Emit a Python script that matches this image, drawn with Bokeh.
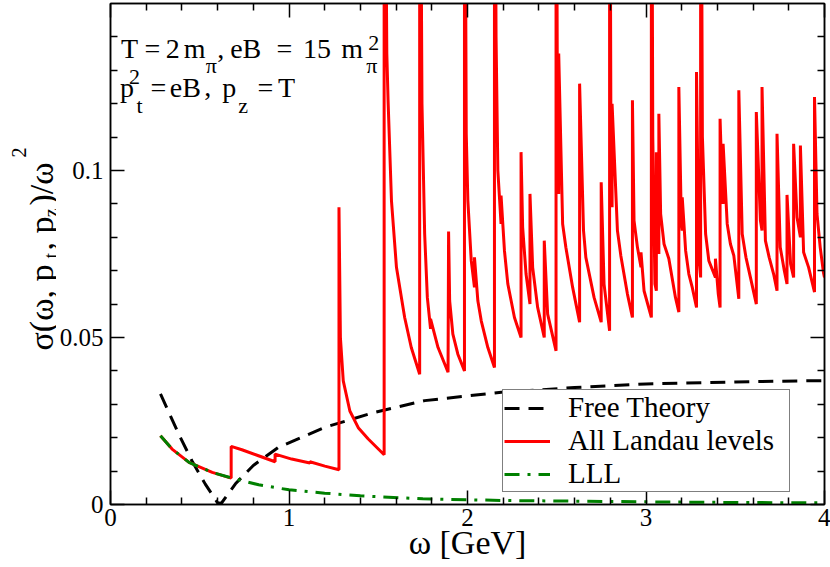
import numpy as np
from bokeh.plotting import figure
from bokeh.layouts import row
from bokeh.models import Range1d, LinearAxis, FixedTicker, Legend, LegendItem, Label
from bokeh.embed import file_html
from bokeh.resources import INLINE

# ---------------- data ----------------
free_x = [0.28, 0.382, 0.456, 0.531, 0.600, 0.62, 0.70, 0.80, 0.94, 1.20, 1.48,
          1.76, 2.19, 2.60, 3.00, 3.50, 4.00]
free_y = [0.0331, 0.0211, 0.0131, 0.0061, 0.0005, 0.0003, 0.0062, 0.0117, 0.0171,
          0.0231, 0.0276, 0.0311, 0.0336, 0.0350, 0.0361, 0.0367, 0.0371]

lll_x = [0.28, 0.345, 0.44, 0.57, 0.68, 0.83, 1.0, 1.2, 1.4, 1.75, 2.2, 2.6, 3.0, 3.5, 4.0]
lll_y = [0.0206, 0.0166, 0.0126, 0.0096, 0.0079, 0.0059, 0.0044, 0.0034, 0.0026,
         0.0017, 0.0012, 0.0010, 0.0008, 0.0006, 0.0005]

all_x = [0.28, 0.345, 0.44, 0.57, 0.676,
         0.676, 0.736, 0.829, 0.922,
         0.922, 1.015, 1.117,
         1.117, 1.201, 1.28,
         1.28, 1.288, 1.304, 1.341, 1.388, 1.444, 1.533,
         1.533, 1.548, 1.555, 1.574, 1.602, 1.648, 1.685, 1.732,
         1.732, 1.745, 1.760, 1.775, 1.793, 1.793, 1.835, 1.891,
         1.894, 1.900, 1.918, 1.946, 1.983,
         1.983, 1.993, 2.002, 2.021, 2.039, 2.039, 2.058, 2.077, 2.114, 2.151,
         2.151, 2.160, 2.170, 2.188, 2.188, 2.207, 2.226, 2.263, 2.300,
         2.300, 2.309, 2.328, 2.350, 2.350, 2.365, 2.393, 2.430,
         2.430, 2.449, 2.496,
         2.496, 2.503, 2.511, 2.511, 2.533, 2.551, 2.589, 2.628,
         2.628, 2.650, 2.663, 2.709, 2.749,
         2.749, 2.765, 2.796,
         2.796, 2.803, 2.810, 2.810, 2.840, 2.859, 2.896, 2.924,
         2.924, 2.933, 2.952, 2.972, 2.972, 2.989, 3.030,
         3.030, 3.038, 3.050, 3.058, 3.058, 3.066, 3.072, 3.072, 3.082, 3.101, 3.128, 3.165, 3.184,
         3.184, 3.198, 3.203, 3.203, 3.222, 3.240, 3.259, 3.283,
         3.283, 3.296, 3.306, 3.306, 3.316, 3.334, 3.352, 3.389, 3.389, 3.405, 3.415,
         3.415, 3.428, 3.432, 3.432, 3.455, 3.473, 3.492, 3.520,
         3.520, 3.539, 3.560, 3.585, 3.618,
         3.618, 3.641, 3.650, 3.650, 3.669, 3.690, 3.715, 3.734,
         3.734, 3.752, 3.775, 3.790,
         3.790, 3.810, 3.827, 3.827, 3.846, 3.865, 3.865, 3.883, 3.911, 3.944,
         3.944, 3.958, 3.976, 3.994, 4.000]
all_y = [0.0206, 0.0166, 0.0126, 0.0096, 0.0079,
         0.0174, 0.0164, 0.0146, 0.0128,
         0.0151, 0.0136, 0.0124,
         0.0128, 0.0115, 0.0104,
         0.0890, 0.0500, 0.0370, 0.0280, 0.0230, 0.0196, 0.0149,
         0.2500, 0.1350, 0.1210, 0.0910, 0.0710, 0.0560, 0.0470, 0.0390,
         0.2500, 0.1200, 0.0810, 0.0620, 0.0526, 0.0556, 0.0470, 0.0396,
         0.0817, 0.0610, 0.0510, 0.0450, 0.0400,
         0.2500, 0.1110, 0.0910, 0.0730, 0.0650, 0.0740, 0.0610, 0.0550, 0.0470, 0.0410,
         0.2500, 0.1400, 0.1000, 0.0840, 0.0925, 0.0760, 0.0660, 0.0560, 0.0500,
         0.1055, 0.0830, 0.0690, 0.0600, 0.0930, 0.0710, 0.0590, 0.0500,
         0.0790, 0.0570, 0.0460,
         0.2500, 0.1300, 0.0930, 0.1350, 0.0840, 0.0770, 0.0650, 0.0546,
         0.1260, 0.0820, 0.0740, 0.0620, 0.0546,
         0.0965, 0.0660, 0.0520,
         0.2500, 0.1200, 0.0890, 0.1200, 0.0820, 0.0745, 0.0630, 0.0560,
         0.1210, 0.0850, 0.0770, 0.0710, 0.0755, 0.0640, 0.0560,
         0.2500, 0.1100, 0.0660, 0.0640, 0.1055, 0.0800, 0.0750, 0.1170, 0.0870, 0.0780, 0.0736, 0.0620, 0.0576,
         0.1250, 0.0845, 0.0820, 0.0920, 0.0760, 0.0690, 0.0650, 0.0590,
         0.1295, 0.0740, 0.0680, 0.2500, 0.1100, 0.0810, 0.0730, 0.0680, 0.0736, 0.0630, 0.0590,
         0.1155, 0.0930, 0.0900, 0.1080, 0.0840, 0.0780, 0.0745, 0.0616,
         0.1240, 0.0810, 0.0740, 0.0680, 0.0600,
         0.1175, 0.0850, 0.0820, 0.1250, 0.0790, 0.0740, 0.0690, 0.0640,
         0.1110, 0.0770, 0.0700, 0.0660,
         0.0927, 0.0720, 0.0680, 0.1080, 0.0860, 0.0800, 0.1075, 0.0755, 0.0710, 0.0636,
         0.1220, 0.0870, 0.0770, 0.0695, 0.0680]

series_names = ["Free Theory", "All Landau levels", "LLL"]

x_ticks = [0, 1, 2, 3, 4]
x_tick_labels = ["0", "1", "2", "3", "4"]
y_ticks = [0, 0.05, 0.1]
y_tick_labels = ["0", "0.05", "0.1"]

# ---------------- layout ----------------
TOTAL_W, H = 830, 567
LEFT_W = 56                          # narrow panel holding the y-axis title
FL, FR, FT, FB = 108, 824, 3, 504    # frame edges in page pixels
XMAX, YMAX = 4.0, 0.15
SERIF = "Liberation Serif"


def dx(px):
    return (px - FL) / (FR - FL) * XMAX


def dy(py):
    return (FB - py) / (FB - FT) * YMAX


p = figure(width=TOTAL_W - LEFT_W, height=H, x_range=Range1d(0, XMAX), y_range=Range1d(0, YMAX),
           output_backend="svg", toolbar_location=None,
           min_border_left=FL - LEFT_W, min_border_right=TOTAL_W - FR, min_border_top=FT,
           min_border_bottom=H - FB)
p.grid.visible = False
p.background_fill_color = "white"
p.border_fill_color = "white"
p.outline_line_color = "black"
p.outline_line_width = 1.5

x_minor = [round(v, 2) for v in np.arange(0.2, 4.0, 0.2) if abs(v - round(v)) > 1e-6]
y_minor = [round(v, 3) for v in np.arange(0.01, 0.15, 0.01) if abs(v * 20 - round(v * 20)) > 1e-6]


def style_axis(ax, labels=True):
    ax.axis_line_color = "black"
    ax.axis_line_width = 1.5
    ax.major_tick_line_color = "black"
    ax.major_tick_line_width = 1.5
    ax.minor_tick_line_color = "black"
    ax.minor_tick_line_width = 1.5
    ax.major_tick_in = 14
    ax.major_tick_out = 0
    ax.minor_tick_in = 7
    ax.minor_tick_out = 0
    if labels:
        ax.major_label_text_font = SERIF
        ax.major_label_text_font_size = "25px"
        ax.major_label_text_color = "black"
    else:
        ax.major_label_text_color = None
        ax.major_label_text_font_size = "0px"
        ax.major_label_standoff = 0
        ax.axis_label = None


xa = p.xaxis[0]
ya = p.yaxis[0]
xa.ticker = FixedTicker(ticks=x_ticks, minor_ticks=x_minor)
ya.ticker = FixedTicker(ticks=y_ticks, minor_ticks=y_minor)
xa.major_label_overrides = {t: s for t, s in zip(x_ticks, x_tick_labels)}
ya.major_label_overrides = {t: s for t, s in zip(y_ticks, y_tick_labels)}
style_axis(xa)
style_axis(ya)
xa.major_label_standoff = 4
ya.major_label_standoff = 7
ya.axis_label = None
xa.axis_label = "\u03c9 [GeV]"
xa.axis_label_text_font = SERIF
xa.axis_label_text_font_size = "34px"
xa.axis_label_text_font_style = "normal"
xa.axis_label_text_color = "black"
xa.axis_label_standoff = -5

top = LinearAxis(ticker=FixedTicker(ticks=x_ticks, minor_ticks=x_minor))
right = LinearAxis(ticker=FixedTicker(ticks=y_ticks, minor_ticks=y_minor))
style_axis(top, labels=False)
style_axis(right, labels=False)
p.add_layout(top, "above")
p.add_layout(right, "right")

# ---------------- lines ----------------
r_free = p.line(free_x, free_y, line_color="black", line_width=3, line_dash="15 9")
r_all = p.line(all_x, all_y, line_color="#ff0000", line_width=3)
r_lll = p.line(lll_x, lll_y, line_color="#008000", line_width=3, line_dash="15 8 3 8")

legend = Legend(items=[LegendItem(label=series_names[0], renderers=[r_free]),
                       LegendItem(label=series_names[1], renderers=[r_all]),
                       LegendItem(label=series_names[2], renderers=[r_lll])],
                location=(392, 12))
legend.label_text_font = SERIF
legend.label_text_font_size = "29px"
legend.label_text_color = "black"
legend.glyph_width = 46
legend.glyph_height = 26
legend.label_height = 26
legend.label_width = 220
legend.label_standoff = 18
legend.padding = 1
legend.spacing = 0
legend.margin = 0
legend.border_line_color = "black"
legend.border_line_width = 1.5
legend.background_fill_alpha = 1.0
p.add_layout(legend)


def add_text(text, px, py, size):
    p.add_layout(Label(x=dx(px), y=dy(py), text=text, text_font=SERIF,
                       text_font_size=f"{size}px", text_color="black",
                       text_align="left", text_baseline="alphabetic"))


BIG, SMALL = 28, 22
# annotation, line 1:  T = 2 m_pi, eB = 15 m_pi^2
L1, L1SUB, L1SUP = 48.3, 64.5, 42.5
for tok, xpos in [("T", 118.5), ("=", 142), ("2", 163.5), ("m", 181.5), (",", 215),
                  ("eB", 228), ("=", 274.5), ("15", 301), ("m", 339.5)]:
    add_text(tok, xpos, L1, BIG)
add_text("\u03c0", 203.5, L1SUB, SMALL)
add_text("\u03c0", 364.5, L1SUB, SMALL)
add_text("2", 366.5, L1SUP, SMALL)
# annotation, line 2:  p_t^2 = eB, p_z = T
L2, L2SUB, L2SUP = 86.7, 104.5, 76.0
for tok, xpos in [("p", 117.5), ("=", 148), ("eB", 167.5), (",", 202), ("p", 220),
                  ("=", 255.5), ("T", 276)]:
    add_text(tok, xpos, L2, BIG)
add_text("2", 126.5, L2SUP, SMALL)
add_text("t", 134, L2SUB, SMALL)
add_text("z", 236, L2SUB, SMALL)

# ---------------- left panel: y-axis title with sub/superscripts ----------------
q = figure(width=LEFT_W, height=H, x_range=Range1d(0, LEFT_W), y_range=Range1d(FB, FT),
           x_axis_type=None, y_axis_type=None, output_backend="svg", toolbar_location=None,
           min_border_left=0, min_border_right=0, min_border_top=FT, min_border_bottom=H - FB)
q.outline_line_color = None
q.background_fill_color = "white"
q.border_fill_color = "white"
q.grid.visible = False

A = np.pi / 2


def add_ytext(text, px, py, size):
    q.add_layout(Label(x=px, y=py, text=text, text_font=SERIF, text_font_size=f"{size}px",
                       text_color="black", text_align="left", text_baseline="alphabetic",
                       angle=A))


add_ytext("\u03c3(\u03c9, p", 41, 350, 34)
add_ytext("t", 50, 258, 20)
add_ytext(", p", 41, 250, 34)
add_ytext("z", 50, 216.7, 20)
add_ytext(")/\u03c9", 41, 205, 34)
add_ytext("2", 18, 157, 20)

layout = row(q, p, spacing=0)

with open("out.html", "w") as f:
    f.write(file_html(layout, INLINE))
